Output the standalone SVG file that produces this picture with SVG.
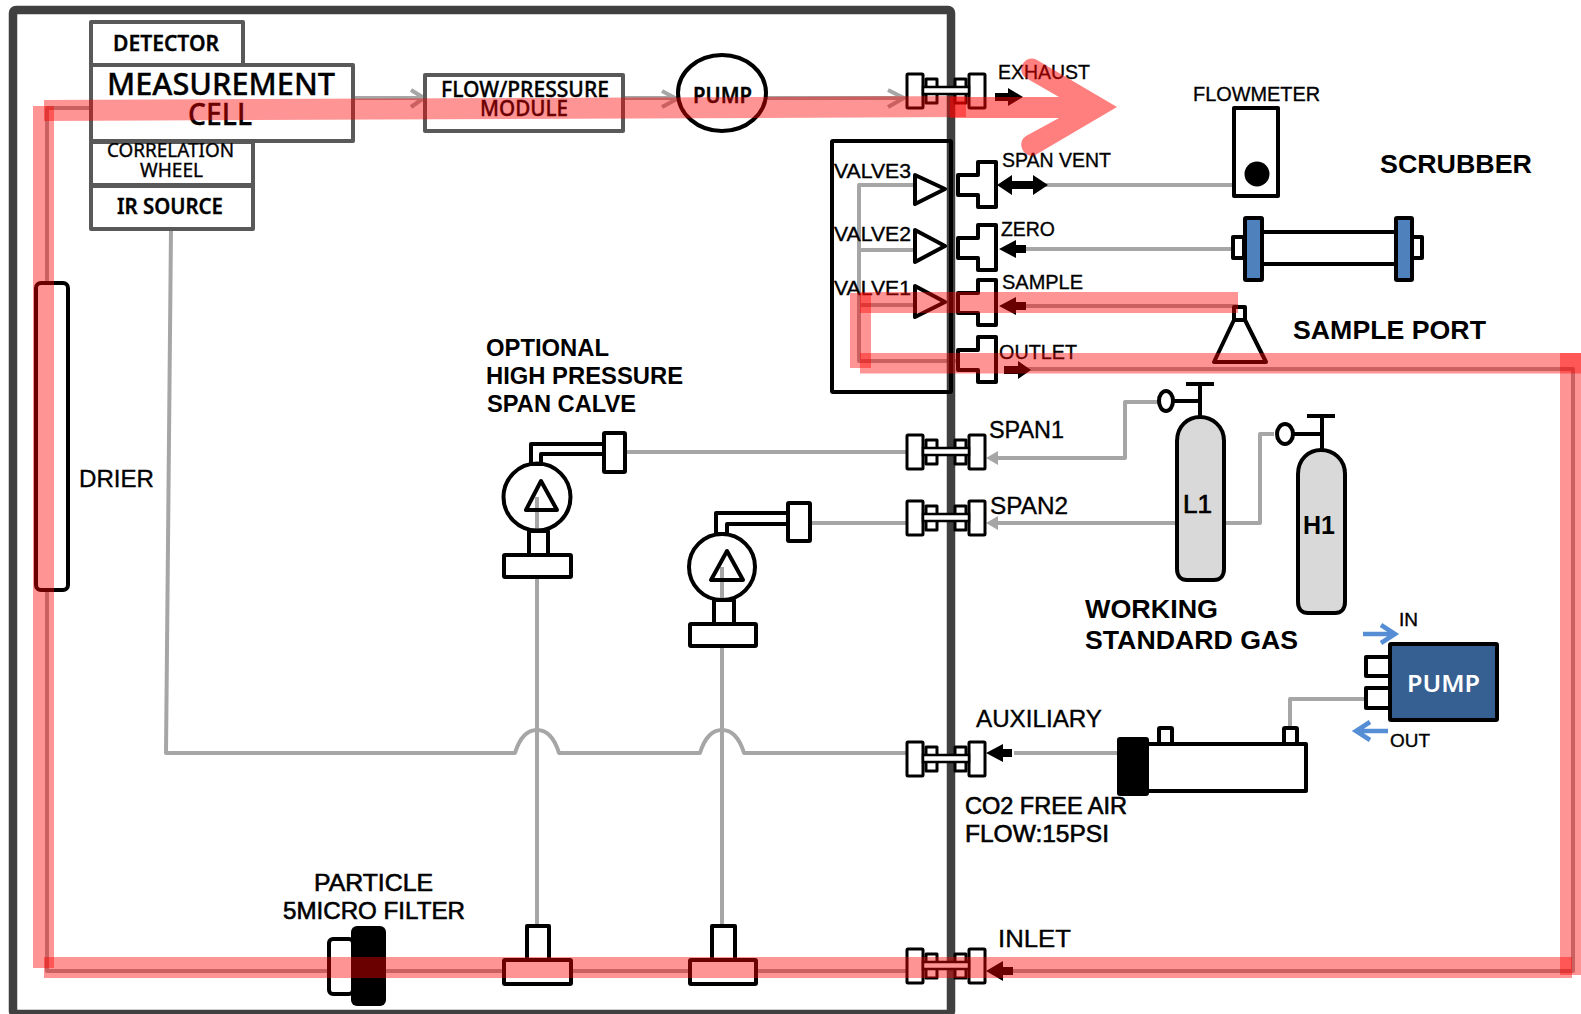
<svg xmlns="http://www.w3.org/2000/svg" width="1581" height="1014" viewBox="0 0 1581 1014">
<style>
text{font-family:"Liberation Sans",Arial,sans-serif;font-size:21px;fill:#000;stroke:#000;stroke-width:.35}
.c{font-family:"Noto Sans","Open Sans",sans-serif}
.b{font-weight:bold;stroke-width:0}
.box{fill:#fff;stroke:#595959;stroke-width:4;stroke-linejoin:round}
.k{fill:#fff;stroke:#000;stroke-width:4;stroke-linejoin:round}
.kn{fill:none;stroke:#000;stroke-width:4;stroke-linejoin:round}
.k3{fill:#fff;stroke:#000;stroke-width:3;stroke-linejoin:round}
.gl{fill:none;stroke:#a6a6a6;stroke-width:4;stroke-linejoin:round}
.bl{fill:none;stroke:#558ed5;stroke-width:4.500}
.band{fill:#ff0000;fill-opacity:.42;stroke:none}
</style>
<defs>
<g id="fit">
<rect x="907" y="-17" width="16" height="34" rx="1" class="k3"/>
<rect x="969" y="-17" width="16" height="34" rx="1" class="k3"/>
<rect x="926" y="-12" width="11" height="24" class="k3"/>
<rect x="955" y="-12" width="11" height="24" class="k3"/>
<rect x="923" y="-4" width="46" height="7" fill="#fff" stroke="#000" stroke-width="2.500"/>
<path d="M926 -.5H966" stroke="#fff" stroke-width="3" stroke-dasharray="9 2"/>
</g>
<g id="tee">
<path d="M978 -23H996V22H978V10H958V-10H978Z" class="k"/>
</g>
</defs>

<g id="connectors">
<path class="gl" d="M91 108H47V285M47 590V971H351M386 971H503M571 971H690M756 971H907"/>
<path class="gl" d="M353 98H423M623 98H677M766 98H904"/>
<path class="gl" d="M411 90L424 98L411 107M662 91L677 99L662 107M888 90L904 98L888 107"/>
<path class="gl" d="M171 229L166 753H515C519 740 526 730 537 730C548 730 555 740 559 753H700C704 740 711 730 722 730C733 730 740 740 744 753H907"/>
<path class="gl" d="M537 497V925M722 567V925M625 452H907M810 523H907"/>
<path class="gl" d="M915 185H859V361H958M859 250H915M859 305H915"/>
<path class="gl" d="M1030 185H1233M1020 249H1235M1020 306H1238M1025 369H1573V971H1005"/>
<path class="gl" d="M1158 402H1125V458H992M1274 434H1260V523H1040M1176 523H992"/>
<path class="gl" d="M1014 753H1117M1290 727V699H1365"/>
<path d="M986 458L998 451V465ZM986 523L998 516V530Z" fill="#a6a6a6"/>
<g id="black-arrows" fill="#000">
<path d="M995 93H1008V88L1023 97L1008 106V101H995Z"/>
<path d="M997 185L1012 175V181H1033V175L1048 185L1033 195V189H1012V195Z"/>
<path d="M999 249L1016 240V245H1026V253H1016V258Z"/>
<path d="M999 306L1016 297V302H1026V310H1016V315Z"/>
<path d="M1004 366H1018V361L1031 370L1018 379V374H1004Z"/>
<path d="M986 971L1003 961V967H1013V975H1003V981Z"/>
<path d="M986 753L1003 744V749H1012V757H1003V762Z"/>
</g>
<path class="bl" d="M1363 634H1393M1381 625L1395 634L1381 643M1388 731H1358M1370 722L1356 731L1370 740"/>
</g>

<g id="frame"><rect x="13" y="10" width="938" height="1004" rx="3" fill="none" stroke="#404040" stroke-width="8.500"/></g>

<g id="detector"><rect class="box" x="91" y="22" width="152" height="43"/><text class="c" x="113" y="51" textLength="106" lengthAdjust="spacingAndGlyphs" style="font-weight:600">DETECTOR</text></g>
<g id="correlation-wheel"><rect class="box" x="91" y="142" width="162" height="43"/><text class="c" x="107" y="157" textLength="127" lengthAdjust="spacingAndGlyphs" style="font-size:19px">CORRELATION</text><text class="c" x="140" y="177" textLength="63" lengthAdjust="spacingAndGlyphs" style="font-size:19px">WHEEL</text></g>
<g id="ir-source"><rect class="box" x="91" y="186" width="162" height="43"/><text class="c" x="117" y="214" textLength="106" lengthAdjust="spacingAndGlyphs" style="font-weight:600">IR SOURCE</text></g>
<g id="measurement-cell"><rect class="box" x="91" y="65" width="262" height="76"/><text class="c" x="107" y="95" textLength="228" lengthAdjust="spacingAndGlyphs" style="font-size:31px;font-weight:500">MEASUREMENT</text><text class="c" x="188" y="125" textLength="64" lengthAdjust="spacingAndGlyphs" style="font-size:31px;font-weight:500">CELL</text></g>
<g id="flow-pressure-module"><rect class="box" x="425" y="75" width="198" height="56"/><text class="c" x="441" y="97" textLength="168" lengthAdjust="spacingAndGlyphs" style="font-weight:500">FLOW/PRESSURE</text><text class="c" x="480" y="116" textLength="88" lengthAdjust="spacingAndGlyphs" style="font-weight:500">MODULE</text></g>
<g id="pump-internal"><ellipse class="k" cx="722" cy="93" rx="44" ry="38"/><text class="c" x="693" y="103" textLength="59" lengthAdjust="spacingAndGlyphs" style="font-weight:600">PUMP</text></g>

<g id="drier"><rect x="36" y="283" width="32" height="307" rx="5" fill="#fff" stroke="#000" stroke-width="4"/><text x="79" y="487" textLength="75" lengthAdjust="spacingAndGlyphs" style="font-size:24px">DRIER</text></g>

<g id="valves">
<rect x="832" y="141" width="119" height="251" rx="1" class="kn"/>
<path class="k" d="M915 175L945 189L915 204ZM915 230L945 246L915 262ZM915 286L945 302L915 317Z"/>
<text x="834" y="178" textLength="77" lengthAdjust="spacingAndGlyphs">VALVE3</text>
<text x="834" y="241" textLength="77" lengthAdjust="spacingAndGlyphs">VALVE2</text>
<text x="834" y="295" textLength="77" lengthAdjust="spacingAndGlyphs">VALVE1</text>
</g>

<g id="fitting-exhaust"><use href="#fit" y="91"/><text x="998" y="79" textLength="92" lengthAdjust="spacingAndGlyphs">EXHAUST</text></g>
<g id="fitting-span-vent"><use href="#tee" y="185"/><text x="1002" y="167" textLength="109" lengthAdjust="spacingAndGlyphs">SPAN VENT</text></g>
<g id="fitting-zero"><use href="#tee" y="248"/><text x="1001" y="236" textLength="54" lengthAdjust="spacingAndGlyphs">ZERO</text></g>
<g id="fitting-sample"><use href="#tee" y="303"/><text x="1002" y="289" textLength="81" lengthAdjust="spacingAndGlyphs">SAMPLE</text></g>
<g id="fitting-outlet"><use href="#tee" y="360"/><text x="999" y="359" textLength="78" lengthAdjust="spacingAndGlyphs">OUTLET</text></g>
<g id="fitting-span1"><use href="#fit" y="452"/><text x="989" y="438" textLength="75" lengthAdjust="spacingAndGlyphs" style="font-size:23px">SPAN1</text></g>
<g id="fitting-span2"><use href="#fit" y="518"/><text x="990" y="514" textLength="78" lengthAdjust="spacingAndGlyphs" style="font-size:23px">SPAN2</text></g>
<g id="fitting-auxiliary"><use href="#fit" y="759"/><text x="976" y="727" textLength="126" lengthAdjust="spacingAndGlyphs" style="font-size:23px">AUXILIARY</text></g>
<g id="fitting-inlet"><use href="#fit" y="966"/><text x="998" y="947" textLength="73" lengthAdjust="spacingAndGlyphs" style="font-size:23px">INLET</text></g>

<g id="flowmeter"><rect x="1234" y="108" width="44" height="88" class="k"/><circle cx="1257" cy="174" r="12.500" fill="#000"/><text x="1193" y="101" textLength="127" lengthAdjust="spacingAndGlyphs">FLOWMETER</text></g>
<g id="scrubber">
<rect x="1233" y="237" width="11" height="21" class="k"/><rect x="1412" y="237" width="10" height="21" class="k"/>
<rect x="1261" y="232" width="135" height="32" class="k"/>
<rect x="1245" y="218" width="17" height="62" rx="1" fill="#4f81bd" stroke="#000" stroke-width="4"/><rect x="1396" y="218" width="16" height="62" rx="1" fill="#4f81bd" stroke="#000" stroke-width="4"/>
<text class="b" x="1380" y="173" textLength="152" lengthAdjust="spacingAndGlyphs" style="font-size:25px">SCRUBBER</text>
</g>
<g id="sample-port"><path class="k" d="M1234 320L1214 362H1266L1245 320Z"/><rect x="1234" y="307" width="11" height="13" class="k"/><text class="b" x="1293" y="339" textLength="193" lengthAdjust="spacingAndGlyphs" style="font-size:25px">SAMPLE PORT</text></g>

<g id="cylinder-l1">
<path class="kn" d="M1200 416V384M1186 384H1214M1200 401H1174"/><ellipse cx="1166" cy="401" rx="7" ry="10" class="k"/>
<path d="M1177 441C1177 426 1188 417 1200 417C1212 417 1224 426 1224 441V569C1224 576 1220 580 1214 580H1187C1181 580 1177 576 1177 569Z" fill="#d9d9d9" stroke="#000" stroke-width="4"/>
<text x="1183" y="513" textLength="29" lengthAdjust="spacingAndGlyphs" style="font-size:25px;stroke-width:.7">L1</text>
</g>
<g id="cylinder-h1">
<path class="kn" d="M1322 449V416M1307 416H1335M1322 434H1294"/><ellipse cx="1285" cy="434" rx="8" ry="10" class="k"/>
<path d="M1298 474C1298 459 1309 450 1321 450C1333 450 1345 459 1345 474V602C1345 609 1341 613 1335 613H1308C1302 613 1298 609 1298 602Z" fill="#d9d9d9" stroke="#000" stroke-width="4"/>
<text class="b" x="1303" y="534" textLength="32" lengthAdjust="spacingAndGlyphs" style="font-size:25px">H1</text>
</g>
<g id="working-standard-gas"><text class="b" x="1085" y="618" textLength="133" lengthAdjust="spacingAndGlyphs" style="font-size:25px">WORKING</text><text class="b" x="1085" y="649" textLength="213" lengthAdjust="spacingAndGlyphs" style="font-size:25px">STANDARD GAS</text></g>

<g id="span-valve-1">
<path class="k" d="M531 464V444H604V454H541V464Z"/>
<rect x="604" y="433" width="21" height="39" rx="1" class="k"/>
<circle cx="537" cy="497" r="33.500" fill="none" stroke="#000" stroke-width="4"/>
<path class="kn" d="M541 481L526 510H557Z"/>
<rect x="529" y="531" width="19" height="25" class="k"/>
<rect x="504" y="555" width="67" height="22" rx="1" class="k"/>
<text class="b" x="486" y="356" textLength="123" lengthAdjust="spacingAndGlyphs" style="font-size:24px">OPTIONAL</text>
<text class="b" x="486" y="384" textLength="197" lengthAdjust="spacingAndGlyphs" style="font-size:24px">HIGH PRESSURE</text>
<text class="b" x="487" y="412" textLength="149" lengthAdjust="spacingAndGlyphs" style="font-size:24px">SPAN CALVE</text>
</g>
<g id="span-valve-2">
<path class="k" d="M716 534V513H788V524H727V534Z"/>
<rect x="788" y="503" width="22" height="38" rx="1" class="k"/>
<circle cx="722" cy="567" r="33" fill="none" stroke="#000" stroke-width="4"/>
<path class="kn" d="M727 551L711 580H743Z"/>
<rect x="714" y="600" width="20" height="25" class="k"/>
<rect x="690" y="624" width="66" height="22" rx="1" class="k"/>
</g>
<g id="filter">
<rect x="329" y="939" width="24" height="55" rx="4" class="k"/>
<rect x="351" y="926" width="35" height="80" rx="6" fill="#000"/>
<text x="314" y="891" textLength="119" lengthAdjust="spacingAndGlyphs" style="font-size:24px;stroke-width:.6">PARTICLE</text>
<text x="283" y="919" textLength="182" lengthAdjust="spacingAndGlyphs" style="font-size:24px;stroke-width:.6">5MICRO FILTER</text>
</g>
<g id="outlet-tee-1"><path class="k" d="M527 960V926H549V960Z"/><rect x="504" y="960" width="67" height="24" rx="1" class="k"/></g>
<g id="outlet-tee-2"><path class="k" d="M712 960V926H735V960Z"/><rect x="690" y="960" width="66" height="24" rx="1" class="k"/></g>

<g id="co2-free-air">
<rect x="1159" y="728" width="13" height="16" rx="1" class="k"/><rect x="1284" y="728" width="13" height="16" rx="1" class="k"/>
<rect x="1146" y="744" width="160" height="47" class="k"/>
<rect x="1117" y="737" width="32" height="59" rx="3" fill="#000"/>
<text x="965" y="814" textLength="162" lengthAdjust="spacingAndGlyphs" style="font-size:23px;stroke-width:.6">CO2 FREE AIR</text>
<text x="965" y="842" textLength="144" lengthAdjust="spacingAndGlyphs" style="font-size:23px;stroke-width:.6">FLOW:15PSI</text>
</g>
<g id="pump-external">
<rect x="1366" y="657" width="24" height="19" class="k"/><rect x="1366" y="688" width="24" height="20" class="k"/>
<rect x="1390" y="644" width="107" height="76" rx="1" fill="#376092" stroke="#000" stroke-width="4"/>
<text class="c" x="1407" y="692" textLength="73" lengthAdjust="spacingAndGlyphs" style="font-size:24px;font-weight:600;fill:#fff;stroke:none">PUMP</text>
<text x="1399" y="626" textLength="19" lengthAdjust="spacingAndGlyphs" style="font-size:18px">IN</text>
<text x="1390" y="747" textLength="40" lengthAdjust="spacingAndGlyphs" style="font-size:18px">OUT</text>
</g>

<g id="flow-highlight">
<path class="band" d="M44 100L966 96V117L44 121Z"/>
<path class="band" d="M33 106H54V968H33Z"/>
<path class="band" d="M44 957H1572V978H44Z"/>
<path class="band" d="M1560 353H1581V975H1560Z"/>
<path class="band" d="M860 353H1581V373.500H860Z"/>
<path class="band" d="M850 293H871V368H850Z"/>
<path class="band" d="M860 292H1238V313H860Z"/>
<path class="band" d="M950 97H1059L1026 78C1015 71 1025 53 1037 60L1117 107L1037 154C1025 161 1015 143 1026 136L1059 118H950Z" style="fill-opacity:.5"/>
</g>
</svg>
